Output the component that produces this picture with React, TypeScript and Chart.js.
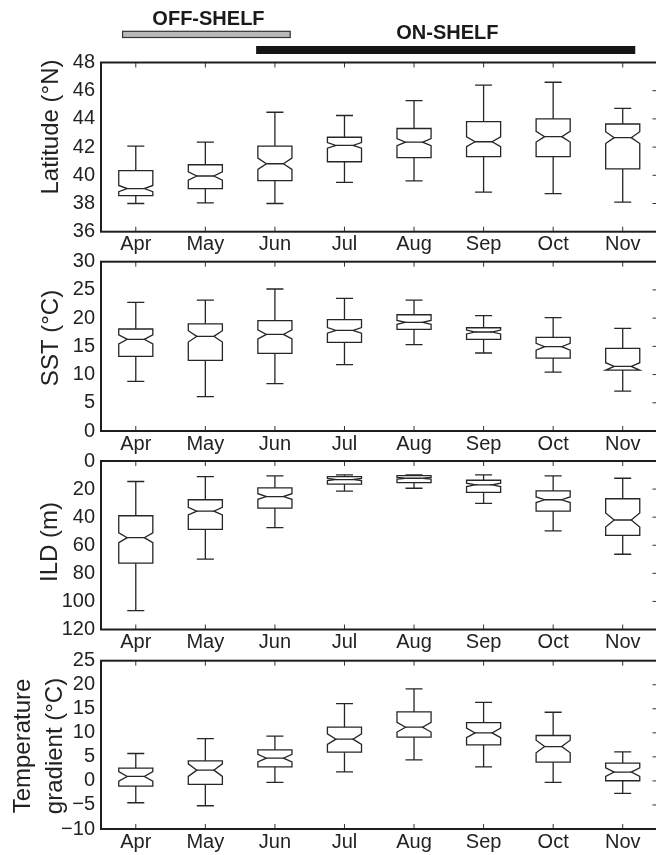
import React, { useEffect, useRef } from "react";
import { Chart, registerables } from "chart.js";
Chart.register(...registerables);

const FONT = "'Liberation Sans', Arial, Helvetica, sans-serif";

const months = ["Apr", "May", "Jun", "Jul", "Aug", "Sep", "Oct", "Nov"];

// Latitude (°N)
const latLo = [38.0, 38.05, 38.0, 39.5, 39.6, 38.8, 38.7, 38.1];
const latQ1 = [38.56, 39.06, 39.62, 40.96, 41.25, 41.32, 41.32, 40.45];
const latMed = [39.06, 39.95, 40.82, 42.12, 42.35, 42.38, 42.74, 42.67];
const latQ3 = [40.33, 40.75, 42.07, 42.7, 43.32, 43.8, 44.0, 43.64];
const latHi = [42.07, 42.35, 44.47, 44.24, 45.3, 46.4, 46.6, 44.75];
const latNotch = [0.22, 0.3, 0.4, 0.2, 0.25, 0.35, 0.38, 0.42];

// SST (°C)
const sstLo = [8.8, 6.08, 8.38, 11.75, 15.3, 13.82, 10.45, 7.08];
const sstQ1 = [13.23, 12.5, 13.76, 15.7, 18.0, 16.24, 12.93, 10.8];
const sstMed = [16.24, 16.77, 17.12, 17.83, 19.25, 17.54, 14.94, 11.45];
const sstQ3 = [18.07, 19.0, 19.55, 19.72, 20.6, 18.3, 16.6, 14.64];
const sstHi = [22.8, 23.2, 25.16, 23.5, 23.2, 20.43, 20.08, 18.19];
const sstNotch = [0.8, 1.0, 0.8, 0.5, 0.35, 0.35, 0.6, 0.65];

// ILD (m)
const ildLo = [14.6, 11.1, 10.6, 9.9, 9.9, 9.9, 10.6, 12.3];
const ildQ1 = [39.0, 27.6, 19.1, 11.1, 10.4, 13.7, 21.3, 26.9];
const ildMed = [54.6, 35.7, 25.3, 13.2, 12.3, 17.0, 27.6, 42.0];
const ildQ3 = [72.8, 48.7, 33.5, 16.5, 15.4, 22.4, 35.7, 52.9];
const ildHi = [106.5, 69.9, 47.5, 21.5, 19.4, 30.2, 49.8, 66.4];
const ildNotch = [3.5, 2.7, 2.0, 0.8, 0.6, 1.2, 2.0, 5.0];

// Temperature gradient (°C)
const tgLo = [-4.54, -5.16, -0.32, 1.9, 4.39, 2.93, -0.32, -2.6];
const tgQ1 = [-1.08, -0.73, 2.93, 5.98, 9.09, 7.5, 3.9, 0.03];
const tgMed = [0.93, 2.24, 4.73, 8.68, 11.17, 9.99, 7.15, 1.83];
const tgQ3 = [2.66, 4.18, 6.46, 11.17, 14.35, 12.13, 9.44, 3.7];
const tgHi = [5.7, 8.81, 9.3, 16.08, 19.12, 16.35, 14.28, 6.05];
const tgNotch = [1.0, 1.3, 0.8, 1.1, 1.0, 1.0, 1.3, 0.9];

// Shelf periods (in month-category units)
const shelfLabels = ["OFF-SHELF", "ON-SHELF"];
const shelfStart = [-0.19, 1.73];
const shelfEnd = [2.22, 7.18];
const shelfLabelPos = [1.045, 4.48];

type Panel = {
  key: string;
  title: string[];
  titleCenterY: number;
  titleX: number[];
  yMin: number;
  yMax: number;
  step: number;
  reverse: boolean;
  lo: number[];
  q1: number[];
  med: number[];
  q3: number[];
  hi: number[];
  notch: number[];
  canvasTop: number;
  chartTop: number;
  chartBot: number;
  header?: boolean;
};

const CANVAS_W = 680;
const PLOT_LEFT = 101;
const PLOT_RIGHT = 657.5;

const panels: Panel[] = [
  {
    key: "lat", title: ["Latitude (°N)"], titleCenterY: 127, titleX: [57.5],
    yMin: 36, yMax: 48, step: 2, reverse: false,
    lo: latLo, q1: latQ1, med: latMed, q3: latQ3, hi: latHi, notch: latNotch,
    canvasTop: 0, chartTop: 62.5, chartBot: 231.7, header: true,
  },
  {
    key: "sst", title: ["SST (°C)"], titleCenterY: 338, titleX: [57.5],
    yMin: 0, yMax: 30, step: 5, reverse: false,
    lo: sstLo, q1: sstQ1, med: sstMed, q3: sstQ3, hi: sstHi, notch: sstNotch,
    canvasTop: 230, chartTop: 261.7, chartBot: 431,
  },
  {
    key: "ild", title: ["ILD (m)"], titleCenterY: 542, titleX: [57],
    yMin: 0, yMax: 120, step: 20, reverse: true,
    lo: ildLo, q1: ildQ1, med: ildMed, q3: ildQ3, hi: ildHi, notch: ildNotch,
    canvasTop: 430, chartTop: 461, chartBot: 629.5,
  },
  {
    key: "tg", title: ["Temperature", "gradient (°C)"], titleCenterY: 746, titleX: [30, 61.5],
    yMin: -10, yMax: 25, step: 5, reverse: false,
    lo: tgLo, q1: tgQ1, med: tgMed, q3: tgQ3, hi: tgHi, notch: tgNotch,
    canvasTop: 628, chartTop: 660.7, chartBot: 829,
  },
];

function canvasHeight(p: Panel) {
  return Math.min(855 - p.canvasTop, Math.ceil(p.chartBot + 30 - p.canvasTop));
}

function makePlugin(p: Panel) {
  return {
    id: "boxes_" + p.key,
    afterDatasetsDraw(chart: any) {
      const { ctx, chartArea: a, scales } = chart;
      const x = scales.x;
      const y = scales.y;
      const sp = x.getPixelForValue(1) - x.getPixelForValue(0);
      const hw = sp * 0.245;
      const inner = hw * 0.5;
      const cap = hw * 0.5;
      ctx.save();
      ctx.lineJoin = "miter";
      ctx.strokeStyle = "#262626";
      ctx.lineWidth = 1.3;
      p.med.forEach((m, i) => {
        const cx = x.getPixelForValue(i);
        const Y = (v: number) => y.getPixelForValue(v);
        const nLo = m - p.notch[i];
        const nHi = m + p.notch[i];
        ctx.beginPath();
        ctx.moveTo(cx - hw, Y(p.q1[i]));
        ctx.lineTo(cx - hw, Y(nLo));
        ctx.lineTo(cx - inner, Y(m));
        ctx.lineTo(cx - hw, Y(nHi));
        ctx.lineTo(cx - hw, Y(p.q3[i]));
        ctx.lineTo(cx + hw, Y(p.q3[i]));
        ctx.lineTo(cx + hw, Y(nHi));
        ctx.lineTo(cx + inner, Y(m));
        ctx.lineTo(cx + hw, Y(nLo));
        ctx.lineTo(cx + hw, Y(p.q1[i]));
        ctx.closePath();
        ctx.stroke();
        // median
        ctx.beginPath();
        ctx.moveTo(cx - inner, Y(m));
        ctx.lineTo(cx + inner, Y(m));
        // whiskers
        ctx.moveTo(cx, Y(p.q3[i]));
        ctx.lineTo(cx, Y(p.hi[i]));
        ctx.moveTo(cx, Y(p.q1[i]));
        ctx.lineTo(cx, Y(p.lo[i]));
        ctx.moveTo(cx - cap, Y(p.hi[i]));
        ctx.lineTo(cx + cap, Y(p.hi[i]));
        ctx.moveTo(cx - cap, Y(p.lo[i]));
        ctx.lineTo(cx + cap, Y(p.lo[i]));
        ctx.stroke();
      });
      // inward ticks
      ctx.strokeStyle = "#333";
      ctx.lineWidth = 1;
      ctx.beginPath();
      months.forEach((_, i) => {
        const px = x.getPixelForValue(i);
        ctx.moveTo(px, a.top);
        ctx.lineTo(px, a.top + 5);
        ctx.moveTo(px, a.bottom);
        ctx.lineTo(px, a.bottom - 5);
      });
      y.ticks.forEach((t: any, j: number) => {
        if (j === 0 || j === y.ticks.length - 1) return;
        const py = y.getPixelForValue(t.value);
        ctx.moveTo(a.right - 5, py);
        ctx.lineTo(a.right, py);
      });
      ctx.stroke();
      // frame
      ctx.strokeStyle = "#1e1e1e";
      ctx.lineWidth = 2;
      ctx.strokeRect(a.left, a.top, a.right - a.left, a.bottom - a.top);

      // axis title
      ctx.fillStyle = "#222";
      ctx.font = `24px ${FONT}`;
      ctx.textAlign = "center";
      ctx.textBaseline = "alphabetic";
      p.title.forEach((line, k) => {
        ctx.save();
        ctx.translate(p.titleX[k], p.titleCenterY - p.canvasTop);
        ctx.rotate(-Math.PI / 2);
        ctx.fillText(line, 0, 0);
        ctx.restore();
      });

      // shelf header
      if (p.header) {
        const U = (u: number) => x.getPixelForValue(0) + u * sp;
        ctx.fillStyle = "#b8b8b8";
        ctx.strokeStyle = "#333";
        ctx.lineWidth = 1.2;
        ctx.fillRect(U(shelfStart[0]), 31.3, U(shelfEnd[0]) - U(shelfStart[0]), 6.2);
        ctx.strokeRect(U(shelfStart[0]), 31.3, U(shelfEnd[0]) - U(shelfStart[0]), 6.2);
        ctx.fillStyle = "#151515";
        ctx.fillRect(U(shelfStart[1]), 46, U(shelfEnd[1]) - U(shelfStart[1]), 8);
        ctx.font = `bold 20px ${FONT}`;
        ctx.fillStyle = "#1a1a1a";
        ctx.textAlign = "center";
        ctx.fillText(shelfLabels[0], U(shelfLabelPos[0]), 24.5);
        ctx.fillText(shelfLabels[1], U(shelfLabelPos[1]), 38.5);
      }
      ctx.restore();
    },
  };
}

function PanelChart({ p }: { p: Panel }) {
  const ref = useRef<HTMLCanvasElement | null>(null);
  const h = canvasHeight(p);
  useEffect(() => {
    if (!ref.current) return;
    const xAxisH = h - (p.chartBot - p.canvasTop);
    const chart = new Chart(ref.current, {
      type: "bar",
      data: {
        labels: months,
        datasets: [
          {
            data: p.q1.map((v, i) => [v, p.q3[i]]) as any,
            backgroundColor: "rgba(0,0,0,0)",
            borderWidth: 0,
          },
        ],
      },
      options: {
        responsive: false,
        animation: false,
        events: [],
        layout: {
          padding: {
            top: p.chartTop - p.canvasTop,
            right: CANVAS_W - PLOT_RIGHT,
            bottom: 0,
            left: 0,
          },
        },
        plugins: { legend: { display: false }, tooltip: { enabled: false }, title: { display: false } },
        scales: {
          x: {
            type: "category",
            offset: true,
            grid: { display: false, drawTicks: false },
            border: { display: false },
            ticks: {
              color: "#222",
              font: { family: FONT, size: 20 },
              padding: 1,
              maxRotation: 0,
              autoSkip: false,
            },
            afterFit: (s: any) => {
              s.height = xAxisH;
            },
          },
          y: {
            type: "linear",
            min: p.yMin,
            max: p.yMax,
            reverse: p.reverse,
            grid: { display: false, drawTicks: false },
            border: { display: false },
            ticks: {
              stepSize: p.step,
              autoSkip: false,
              color: "#222",
              font: { family: FONT, size: 20 },
              padding: 6,
              callback: (v: any) => (Number(v) < 0 ? "\u2212" + Math.abs(Number(v)) : String(v)),
            },
            afterFit: (s: any) => {
              s.width = PLOT_LEFT;
            },
          },
        },
      } as any,
      plugins: [makePlugin(p)],
    });
    return () => chart.destroy();
  }, []);
  return (
    <canvas
      ref={ref}
      width={CANVAS_W}
      height={h}
      style={{ position: "absolute", left: 0, top: p.canvasTop, width: CANVAS_W, height: h }}
    />
  );
}

export default function App() {
  return (
    <div
      style={{
        position: "fixed",
        left: 0,
        top: 0,
        width: 656,
        height: 855,
        overflow: "hidden",
        background: "#fff",
      }}
    >
      {panels.map((p) => (
        <PanelChart key={p.key} p={p} />
      ))}
    </div>
  );
}
